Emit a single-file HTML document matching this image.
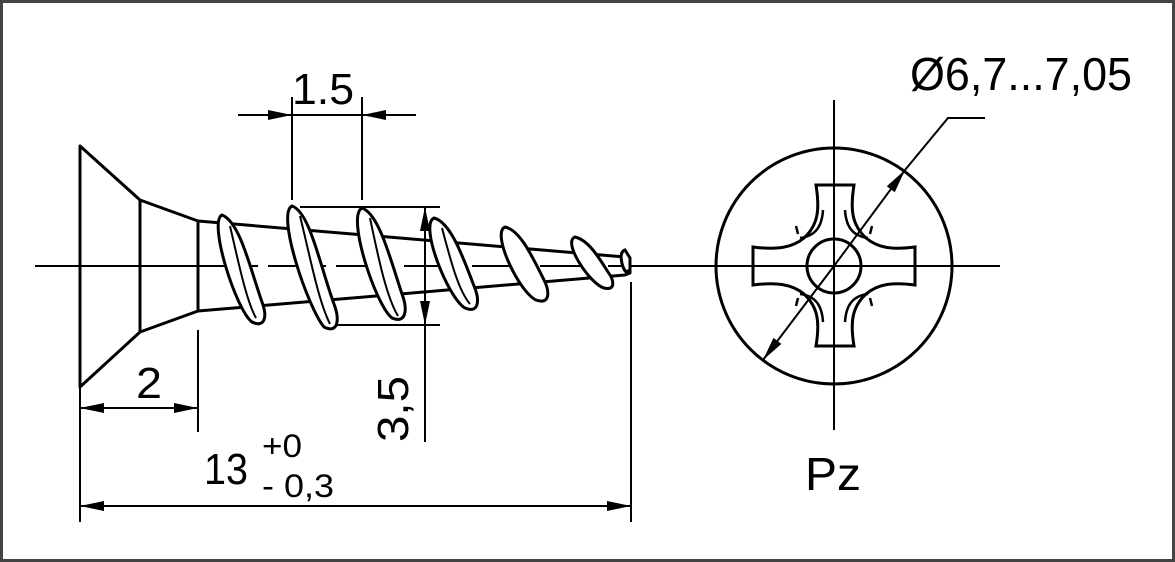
<!DOCTYPE html>
<html><head><meta charset="utf-8"><style>
html,body{margin:0;padding:0;background:#fff}
svg{display:block}
text{font-family:"Liberation Sans",sans-serif;fill:#000}
</style></head><body>
<svg width="1175" height="562" viewBox="0 0 1175 562" xmlns="http://www.w3.org/2000/svg">
<defs>
<marker id="a" viewBox="0 0 24 10" refX="24" refY="5" markerWidth="24" markerHeight="10" markerUnits="userSpaceOnUse" orient="auto"><path d="M0,0 L24,5 L0,10 z" fill="#000"/></marker>
</defs>
<rect x="1.5" y="1.5" width="1172" height="559" fill="#fff" stroke="#444" stroke-width="3"/>
<g stroke="#000" fill="none" stroke-width="2">
<line x1="35" y1="266" x2="200" y2="266"/>
<line x1="200" y1="266" x2="640" y2="266" stroke-dasharray="40,10,8,10"/>
<line x1="640" y1="266" x2="1000" y2="266"/>
<line x1="834" y1="100" x2="834" y2="430"/>
<g stroke-width="3" stroke-linejoin="round">
<path d="M80,146 L80,387 L140,332 L198,311 L198,221 L140,200 Z"/>
<line x1="140" y1="200" x2="140" y2="332"/>
<path d="M198,221 L625,257 L630,258 L630,273 L625,275 L198,311"/>
</g>
<g stroke-width="3" fill="#fff">
<path d="M222,215 C208,222 236,310 252,322 C264,328 268,318 262,302 C250,268 240,222 222,215 Z"/>
<path d="M292,206 C276,214 308,308 324,327 C338,334 340,320 334,304 C320,266 310,212 292,206 Z"/>
<path d="M362,208 C346,216 376,306 392,318 C406,324 408,310 402,294 C390,258 379,214 362,208 Z"/>
<path d="M434,218 C419,225 448,298 465,308 C479,314 480,300 474,286 C462,254 450,222 434,218 Z"/>
<path d="M505,227 C491,233 519,292 536,300 C550,305 550,292 544,280 C532,256 520,230 505,227 Z"/>
<path d="M575,237 C562,242 590,284 604,288 C616,291 614,280 608,272 C598,256 588,240 575,237 Z"/>
<path d="M625,250 C618,252 622,268 626,272 L630,270 L630,258 Z"/>
</g>
<g stroke-width="2">
<path d="M230,226 C238,260 246,300 256,318"/>
<path d="M300,216 C310,256 318,300 330,324"/>
<path d="M370,218 C378,256 386,296 398,316"/>
<path d="M442,228 C450,258 458,290 470,304"/>
</g>
<line x1="292" y1="97" x2="292" y2="200"/>
<line x1="362" y1="97" x2="362" y2="200"/>
<line x1="238" y1="115" x2="292" y2="115" marker-end="url(#a)"/>
<line x1="292" y1="115" x2="362" y2="115"/>
<line x1="416" y1="115" x2="362" y2="115" marker-end="url(#a)"/>
<line x1="300" y1="207" x2="440" y2="207"/>
<line x1="335" y1="325" x2="440" y2="325"/>
<line x1="425" y1="266" x2="425" y2="207" marker-end="url(#a)"/>
<line x1="425" y1="266" x2="425" y2="325" marker-end="url(#a)"/>
<line x1="425" y1="325" x2="425" y2="442"/>
<line x1="80" y1="387" x2="80" y2="522"/>
<line x1="198" y1="330" x2="198" y2="432"/>
<line x1="139" y1="408" x2="80" y2="408" marker-end="url(#a)"/>
<line x1="139" y1="408" x2="198" y2="408" marker-end="url(#a)"/>
<line x1="631" y1="282" x2="631" y2="522"/>
<line x1="355" y1="506" x2="80" y2="506" marker-end="url(#a)"/>
<line x1="355" y1="506" x2="631" y2="506" marker-end="url(#a)"/>
<circle cx="834" cy="266" r="118" stroke-width="3"/>
<circle cx="834" cy="266" r="27" stroke-width="3"/>
<path stroke-width="3" d="M816,185 L854,185 C850,210 852,225 866,238 C878,248 892,250 915,247 L915,285 C892,282 878,284 866,294 C852,307 850,322 854,346 L816,346 C820,322 818,307 804,294 C792,284 776,282 753,285 L753,247 C776,250 792,248 804,238 C818,225 820,210 816,185 Z"/>
<g stroke-width="2.5">
<path d="M845,210 C846,226 852,236 868,238 M870,234 L872,226"/>
<path d="M823,210 C822,226 816,236 800,238 M798,234 L796,226"/>
<path d="M845,322 C846,306 852,296 868,294 M870,298 L872,306"/>
<path d="M823,322 C822,306 816,296 800,294 M798,298 L796,306"/>
</g>
<line x1="834" y1="266" x2="905" y2="170" marker-end="url(#a)"/>
<line x1="834" y1="266" x2="763" y2="360" marker-end="url(#a)"/>
<polyline points="905,170 948,118 985,118"/>
</g>
<g font-size="44">
<text x="292" y="104" textLength="62" lengthAdjust="spacingAndGlyphs">1.5</text>
<text x="136" y="398" textLength="26" lengthAdjust="spacingAndGlyphs">2</text>
<text x="204" y="484" textLength="44" lengthAdjust="spacingAndGlyphs">13</text>
<text x="262" y="457" font-size="32" textLength="40" lengthAdjust="spacingAndGlyphs">+0</text>
<text x="262" y="497" font-size="32" textLength="72" lengthAdjust="spacingAndGlyphs">- 0,3</text>
<text transform="translate(408,442) rotate(-90)" textLength="66" lengthAdjust="spacingAndGlyphs">3,5</text>
<text x="910" y="90" font-size="46" textLength="222" lengthAdjust="spacingAndGlyphs">Ø6,7...7,05</text>
<text x="805" y="490" font-size="46" textLength="56" lengthAdjust="spacingAndGlyphs">Pz</text>
</g>
</svg>
</body></html>
